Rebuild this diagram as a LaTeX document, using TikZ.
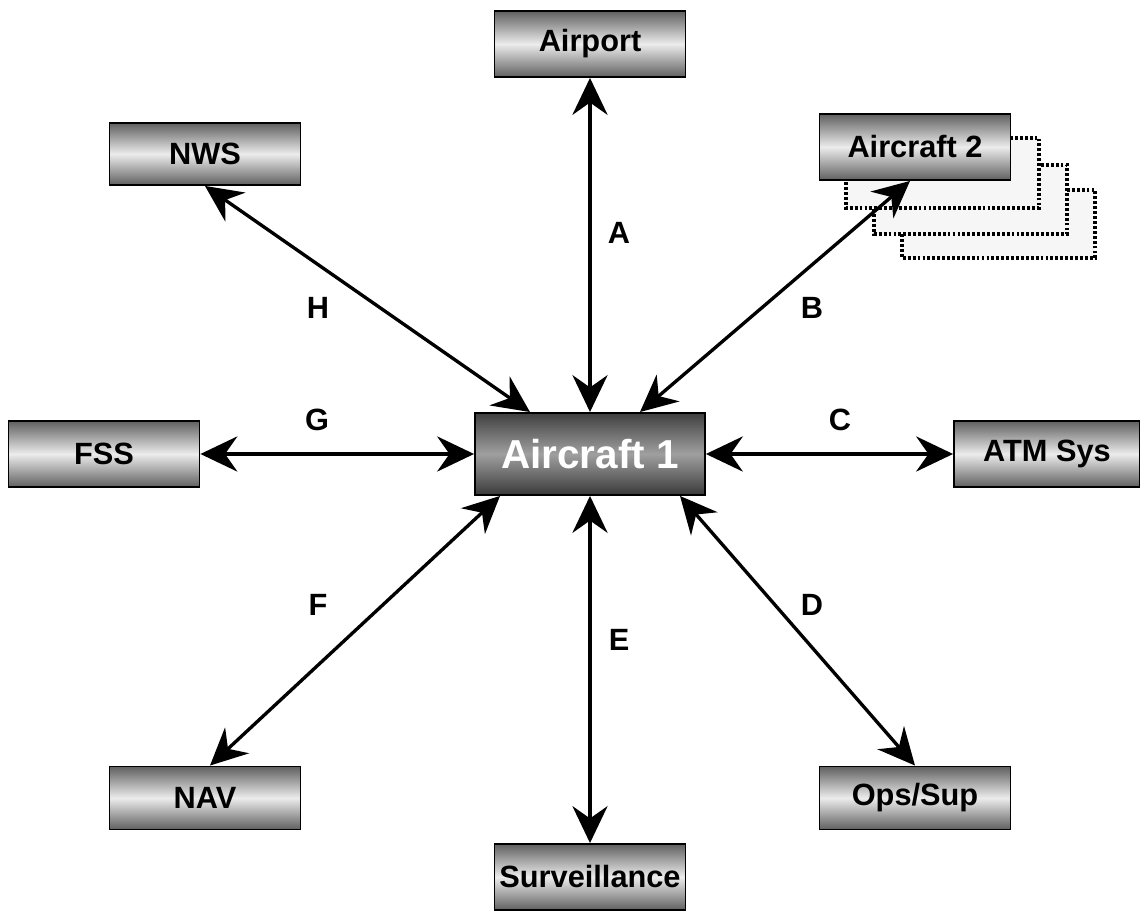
\documentclass[tikz,border=0pt]{standalone}
\usepackage{fontspec}
\setmainfont{Liberation Sans}
\usetikzlibrary{arrows.meta}

\begin{document}
\begin{tikzpicture}[x=0.02cm,y=-0.02cm,
  unitbox/.style={draw,line width=1.1pt,minimum width=3.82cm,minimum height=1.32cm,
    inner sep=0pt,top color=gray!75!black,bottom color=gray!75!black,middle color=gray!15,
    font=\fontsize{17.5}{20}\selectfont\bfseries},
  hubbox/.style={unitbox,minimum width=4.6cm,minimum height=1.64cm,
    top color=gray!50!black,bottom color=gray!45!black,middle color=gray!75,
    text=white,font=\fontsize{23}{26}\selectfont\bfseries},
  ghostbox/.style={draw,line width=1.9pt,dash pattern=on 1.6pt off 1.2pt,fill=gray!7},
  link/.style={line width=1.9pt,{Stealth[length=21pt,width=20pt,inset=7pt]}-{Stealth[length=21pt,width=20pt,inset=7pt]}},
  linklabel/.style={font=\fontsize{17.5}{20}\selectfont\bfseries}]
\useasboundingbox (0,0) rectangle (1140,911);
% copies behind Aircraft 2
\draw[ghostbox] (902,190) rectangle (1095,258);
\draw[ghostbox] (874,165) rectangle (1067,234);
\draw[ghostbox] (846,138) rectangle (1039,208);
% boxes
\node[hubbox] (ac1) at (590,454) {Aircraft 1};
\node[unitbox] (airport) at (590,44) {Airport};
\node[unitbox] (ac2) at (915,147) {Aircraft 2};
\node[unitbox,minimum height=1.24cm] (nws) at (205,154) {NWS};
\node[unitbox] (fss) at (104,454) {FSS};
\node[unitbox,minimum width=3.72cm] (atm) at (1047,454) {ATM Sys};
\node[unitbox,minimum height=1.26cm] (nav) at (205,798) {NAV};
\node[unitbox,minimum height=1.26cm] (ops) at (915,798) {Ops/Sup};
\node[unitbox] (surv) at (590,877) {Surveillance};
% links
\draw[link] (airport.south) -- (ac1.north);
\draw[link] ([xshift=50*0.02cm]ac1.north) -- ([xshift=-5*0.02cm]ac2.south);
\draw[link] (ac1.east) -- (atm.west);
\draw[link] ([xshift=90*0.02cm]ac1.south) -- (ops.north);
\draw[link] (ac1.south) -- (surv.north);
\draw[link] ([xshift=-90*0.02cm]ac1.south) -- ([xshift=5*0.02cm]nav.north);
\draw[link] (ac1.west) -- (fss.east);
\draw[link] ([xshift=-60*0.02cm]ac1.north) -- (nws.south);
% labels
\node[linklabel] (la) at (619,233) {A};
\node[linklabel] (lb) at (812,308) {B};
\node[linklabel] (lc) at (840,420) {C};
\node[linklabel] (ld) at (812,605) {D};
\node[linklabel] (le) at (619,640) {E};
\node[linklabel] (lf) at (318,605) {F};
\node[linklabel] (lg) at (317,420) {G};
\node[linklabel] (lh) at (318,308) {H};
\end{tikzpicture}
\end{document}
